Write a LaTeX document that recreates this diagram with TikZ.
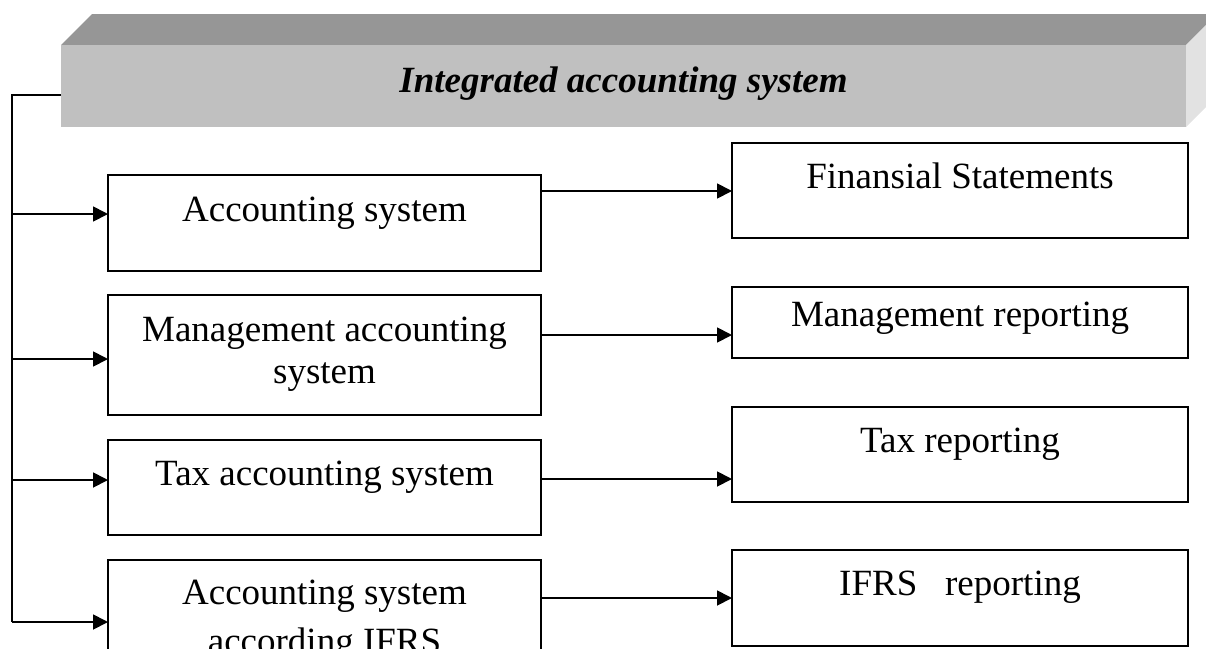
\documentclass[tikz,border=0pt]{standalone}
\usepackage{fontspec}
\setmainfont{Liberation Serif}
\usetikzlibrary{arrows.meta}
\definecolor{frontgray}{HTML}{C0C0C0}
\definecolor{topgray}{HTML}{969696}
\definecolor{sidegray}{HTML}{E2E2E2}
\begin{document}
\begin{tikzpicture}[x=1pt,y=-1pt,
  box/.style={draw, line width=1.9pt, inner sep=0pt, outer sep=0pt},
  lbl/.style={font=\fontsize{37}{42}\selectfont, inner sep=0pt, anchor=base, align=center},
  ttl/.style={font=\fontsize{37}{42}\selectfont\bfseries\itshape, inner sep=0pt, anchor=base},
  arr/.style={line width=1.8pt, -{Triangle[length=15pt,width=15pt]}},
  ln/.style={line width=1.8pt}]
\useasboundingbox (0,0) rectangle (1206,648);
\clip (0,0) rectangle (1206,648);
% 3D banner
\fill[topgray] (61,45) -- (92,14) -- (1217,14) -- (1186,45) -- cycle;
\fill[sidegray] (1186,45) -- (1217,14) -- (1217,96) -- (1186,127) -- cycle;
\node[fill=frontgray, inner sep=0pt, outer sep=0pt, minimum width=1125pt, minimum height=82pt] (banner) at (623.5,86) {};
\node[ttl] (title) at (623.5,92) {Integrated accounting system};
% left boxes
\node[box, minimum width=433pt, minimum height=96pt] (l1) at (324.5,223) {};
\node[box, minimum width=433pt, minimum height=120pt] (l2) at (324.5,355) {};
\node[box, minimum width=433pt, minimum height=95pt] (l3) at (324.5,487.5) {};
\node[box, minimum width=433pt, minimum height=130pt] (l4) at (324.5,625) {};
% right boxes
\node[box, minimum width=456pt, minimum height=95pt] (r1) at (960,190.5) {};
\node[box, minimum width=456pt, minimum height=71pt] (r2) at (960,322.5) {};
\node[box, minimum width=456pt, minimum height=95pt] (r3) at (960,454.5) {};
\node[box, minimum width=456pt, minimum height=96pt] (r4) at (960,598) {};
% labels
\node[lbl] (l1t) at (324.5,221) {Accounting system};
\node[lbl] (l2t) at (324.5,383) {Management accounting\\system};
\node[lbl] (l3t) at (324.5,485) {Tax accounting system};
\node[lbl] (l4t) at (324.5,653) {Accounting system\\[7pt]according IFRS};
\node[lbl] (r1t) at (960,188) {Finansial Statements};
\node[lbl] (r2t) at (960,326) {Management reporting};
\node[lbl] (r3t) at (960,452) {Tax reporting};
\node[lbl] (r4t) at (960,595) {IFRS\ \ \ reporting};
% trunk
\coordinate (tk) at (12,95);
\coordinate (b1) at (12,214);
\coordinate (b2) at (12,359);
\coordinate (b3) at (12,480);
\coordinate (b4) at (12,622);
\draw[ln] (banner.west |- tk) -- (tk) -- (b4);
\draw[arr] (b1) -- (b1 -| l1.west);
\draw[arr] (b2) -- (b2 -| l2.west);
\draw[arr] (b3) -- (b3 -| l3.west);
\draw[arr] (b4) -- (b4 -| l4.west);
% right arrows
\coordinate (a1) at (0,191);
\coordinate (a2) at (0,335);
\coordinate (a3) at (0,479);
\coordinate (a4) at (0,598);
\draw[arr] (a1 -| l1.east) -- (a1 -| r1.west);
\draw[arr] (a2 -| l2.east) -- (a2 -| r2.west);
\draw[arr] (a3 -| l3.east) -- (a3 -| r3.west);
\draw[arr] (a4 -| l4.east) -- (a4 -| r4.west);
\end{tikzpicture}
\end{document}
